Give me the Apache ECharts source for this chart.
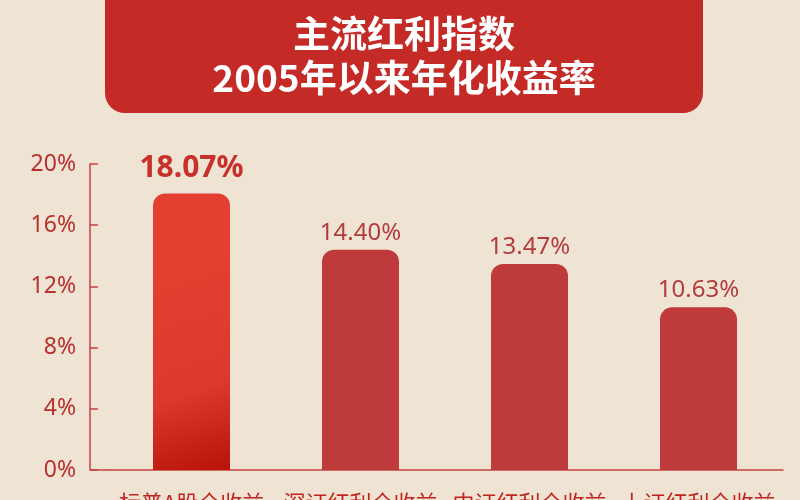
<!DOCTYPE html>
<html>
<head>
<meta charset="utf-8">
<script src="https://cdn.jsdelivr.net/npm/echarts@6/dist/echarts.min.js"></script>
<style>
html,body{margin:0;padding:0;background:#efe4d3;}
#c{width:800px;height:500px;}
</style>
</head>
<body>
<div id="c"></div>
<script>
var titleLines = ['主流红利指数', '2005年以来年化收益率'];
var categories = ['标普A股全收益', '深证红利全收益', '中证红利全收益', '上证红利全收益'];
var values = [18.07, 14.40, 13.47, 10.63];
var yTicks = [0, 4, 8, 12, 16, 20];

var chart = echarts.init(document.getElementById('c'), null, {renderer: 'canvas'});
var red = '#bf3a3b';
var axisRed = '#c4423f';
var font = '"Noto Sans", "Noto Sans CJK SC", sans-serif';

var data = values.map(function (v, i) {
  if (i === 0) {
    return {
      value: v,
      itemStyle: {
        color: new echarts.graphic.LinearGradient(0, 0.3, 0.8, 1, [
          {offset: 0, color: '#e43f31'},
          {offset: 0.6, color: '#dc392c'},
          {offset: 1, color: '#b9150b'}
        ])
      },
      label: {
        fontSize: 30,
        fontWeight: 'bold',
        color: '#c8302b',
        distance: 10
      }
    };
  }
  return {value: v};
});

chart.setOption({
  backgroundColor: '#efe4d3',
  animation: false,
  title: {
    text: titleLines.join('\n'),
    left: 404,
    textAlign: 'center',
    top: 12,
    padding: 0,
    textStyle: {
      color: '#ffffff',
      fontSize: 37,
      lineHeight: 44,
      fontWeight: 'bold',
      fontFamily: '"Noto Sans CJK SC", sans-serif'
    }
  },
  graphic: [
    {
      type: 'rect',
      z: -1,
      shape: {x: 105, y: -20, width: 598, height: 133, r: 20},
      style: {fill: '#c42b27'}
    },
    {
      type: 'line',
      shape: {x1: 90, y1: 470, x2: 107, y2: 470},
      style: {stroke: axisRed, lineWidth: 1.5}
    }
  ],
  grid: {left: 107, right: 17, top: 164, bottom: 30, outerBoundsMode: 'none', containLabel: false},
  xAxis: {
    type: 'category',
    data: categories,
    axisLine: {lineStyle: {color: axisRed, width: 1.5}},
    axisTick: {show: false},
    axisLabel: {
      interval: 0,
      margin: 22,
      fontSize: 22,
      color: '#c0231d',
      fontFamily: '"Noto Sans CJK SC", sans-serif'
    }
  },
  yAxis: {
    type: 'value',
    min: yTicks[0],
    max: yTicks[yTicks.length - 1],
    interval: yTicks[1] - yTicks[0],
    offset: 17,
    axisLine: {show: true, lineStyle: {color: axisRed, width: 1.5}},
    axisTick: {show: true, inside: true, length: 8, lineStyle: {color: axisRed, width: 1.5}},
    splitLine: {show: false},
    axisLabel: {
      margin: 14,
      fontSize: 23,
      color: '#b8302e',
      fontFamily: font,
      formatter: function (v) { return v + '%'; }
    }
  },
  series: [{
    type: 'bar',
    data: data,
    barWidth: 77,
    itemStyle: {
      color: red,
      borderRadius: [12, 12, 0, 0]
    },
    label: {
      show: true,
      position: 'top',
      distance: 5,
      fontSize: 24,
      color: '#b33b3b',
      fontFamily: font,
      formatter: function (p) { return p.value.toFixed(2) + '%'; }
    }
  }]
});
</script>
</body>
</html>
